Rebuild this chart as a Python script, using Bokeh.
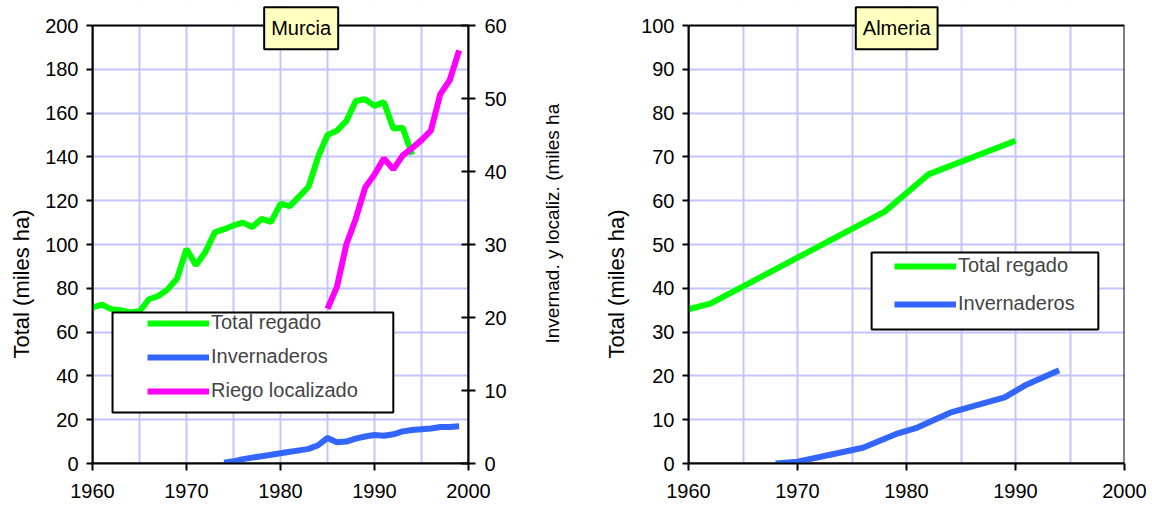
from bokeh.plotting import figure
from bokeh.models import (Range1d, LinearAxis, SingleIntervalTicker, Legend, LegendItem,
                          BoxAnnotation, Label, Title)
from bokeh.layouts import row
from bokeh.embed import file_html
from bokeh.resources import INLINE

# ---------------- data ----------------
# Murcia
murcia_total_years = list(range(1960, 1995))
murcia_total = [71.3, 72.5, 70.5, 70.0, 69.0, 69.5, 75.0, 76.5, 79.5, 84.5,
                98.0, 90.5, 96.5, 105.5, 107.0, 108.7, 110.0, 108.0, 111.7, 110.3,
                118.6, 117.5, 122.0, 126.5, 140.0, 150.0, 152.0, 156.3, 165.5, 166.3,
                163.3, 165.0, 153.0, 153.3, 141.0]
murcia_inv_years = list(range(1974, 2000))
murcia_inv = [0.1, 0.3, 0.6, 0.8, 1.0, 1.2, 1.4, 1.6, 1.8, 2.0,
              2.5, 3.5, 2.9, 3.0, 3.4, 3.7, 3.9, 3.8, 4.0, 4.4,
              4.6, 4.7, 4.8, 5.0, 5.0, 5.1]
murcia_riego_years = list(range(1985, 2000))
murcia_riego = [21.2, 24.2, 30.0, 33.5, 37.8, 39.6, 41.8, 40.3, 42.2, 43.2,
                44.3, 45.6, 50.6, 52.5, 56.6]

# Almeria
almeria_total_years = [1960, 1962, 1978, 1982, 1990]
almeria_total = [35.2, 36.5, 57.5, 66.0, 73.7]
almeria_inv_years = [1968, 1970, 1976, 1979, 1981, 1984, 1989, 1991, 1994]
almeria_inv = [0.0, 0.4, 3.6, 6.7, 8.2, 11.6, 15.1, 18.0, 21.3]

x_ticks_interval = 10
grid_x_interval = 5

GREEN = "#00FF00"
BLUE = "#3366FF"
PINK = "#FF00FF"
GRID = "#C4C4FF"
FONT = "Liberation Sans"
FS = "20px"

# The plotting frame reaches to the top of the canvas (room for the title boxes);
# the chart area proper ends at ymax, the band above it is blanked out.
TOP_EXT = 463.0 / 438.0


def style_axis(ax, out=6, inn=0):
    ax.axis_line_width = 2
    ax.axis_line_color = "black"
    ax.major_tick_line_width = 2
    ax.major_tick_line_color = "black"
    ax.major_tick_out = out
    ax.major_tick_in = inn
    ax.minor_tick_out = 0
    ax.minor_tick_in = 0
    ax.major_label_text_font = FONT
    ax.major_label_text_font_size = FS
    ax.major_label_text_color = "black"


def base_fig(frame_w, ymax, yint, mbl, mbr):
    p = figure(frame_width=frame_w, frame_height=463,
               x_range=Range1d(1960, 2000), y_range=Range1d(0, ymax * TOP_EXT),
               output_backend="svg", toolbar_location=None,
               min_border_left=mbl, min_border_right=mbr, min_border_top=0, min_border_bottom=43)
    p.title.visible = False
    p.outline_line_color = None
    p.background_fill_color = "white"
    p.border_fill_color = "white"
    p.xaxis.ticker = SingleIntervalTicker(interval=x_ticks_interval)
    p.yaxis.ticker = SingleIntervalTicker(interval=yint)
    p.yaxis.bounds = (0, ymax)
    p.xgrid.ticker = SingleIntervalTicker(interval=grid_x_interval)
    p.ygrid.ticker = SingleIntervalTicker(interval=yint)
    for g in (p.xgrid, p.ygrid):
        g.grid_line_color = GRID
        g.grid_line_width = 2
    style_axis(p.xaxis[0], out=7)
    style_axis(p.yaxis[0], out=6)
    p.xaxis.major_label_standoff = 13
    p.yaxis.major_label_standoff = 8
    # blank band above the chart area
    p.add_layout(BoxAnnotation(bottom=ymax, fill_color="white", fill_alpha=1.0,
                               line_alpha=0, level="underlay"))
    # chart-area border
    p.add_layout(BoxAnnotation(left=1960, right=2000, bottom=0, top=ymax,
                               fill_alpha=0, line_color="black", line_width=2,
                               line_alpha=1.0, level="underlay"))
    return p


def title_box(text, x, y):
    return Label(x=x, y=y, text=text, text_align="center", text_baseline="middle",
                 text_font=FONT, text_font_size=FS, text_color="black",
                 background_fill_color="#FFFFC0", background_fill_alpha=1.0,
                 border_line_color="black", border_line_width=2,
                 padding=dict(left=7, right=7, top=10, bottom=10))


def side_title(text, size, offset, standoff):
    return Title(text=text, align="left", offset=offset, standoff=standoff,
                 vertical_align="top", text_font=FONT, text_font_size=size,
                 text_font_style="normal", text_color="black")


# ---------------- Murcia ----------------
p1 = base_fig(376, 200, 20, 92, 40)
p1.extra_y_ranges = {"r": Range1d(0, 60 * TOP_EXT)}
rax = LinearAxis(y_range_name="r", ticker=SingleIntervalTicker(interval=10), bounds=(0, 60))
style_axis(rax, out=7, inn=7)
rax.major_label_standoff = 9
p1.add_layout(rax, "right")

r_tot = p1.line(murcia_total_years, murcia_total, line_color=GREEN, line_width=6)
r_inv = p1.line(murcia_inv_years, murcia_inv, line_color=BLUE, line_width=6, y_range_name="r")
r_rie = p1.line(murcia_riego_years, murcia_riego, line_color=PINK, line_width=6, y_range_name="r")

p1.add_layout(BoxAnnotation(left=1962.13, right=1992.0, bottom=23.3, top=68.9,
                            fill_color="white", fill_alpha=1.0,
                            line_color="black", line_width=2, line_alpha=1.0))
leg1 = Legend(items=[LegendItem(label="Total regado", renderers=[r_tot]),
                     LegendItem(label="Invernaderos", renderers=[r_inv]),
                     LegendItem(label="Riego localizado", renderers=[r_rie])],
              location=(55, 61), padding=0, margin=0, spacing=11,
              glyph_width=62, glyph_height=22, label_height=22, label_standoff=2,
              label_text_font=FONT, label_text_font_size=FS,
              border_line_alpha=0, background_fill_alpha=0)
p1.add_layout(leg1, "center")
p1.add_layout(title_box("Murcia", 1982.2, 198.8))
p1.add_layout(side_title("Total (miles ha)", "22px", 105, 14), "left")

# ---------------- Almeria ----------------
p2 = base_fig(436, 100, 10, 179, 29)
a_tot = p2.line(almeria_total_years, almeria_total, line_color=GREEN, line_width=6)
a_inv = p2.line(almeria_inv_years, almeria_inv, line_color=BLUE, line_width=6)
p2.add_layout(BoxAnnotation(left=1976.8, right=1997.6, bottom=30.6, top=48.2,
                            fill_color="white", fill_alpha=1.0,
                            line_color="black", line_width=2, line_alpha=1.0))
leg2 = Legend(items=[LegendItem(label="Total regado", renderers=[a_tot]),
                     LegendItem(label="Invernaderos", renderers=[a_inv])],
              location=(206, 148), padding=0, margin=0, spacing=15,
              glyph_width=62, glyph_height=22, label_height=22, label_standoff=2,
              label_text_font=FONT, label_text_font_size=FS,
              border_line_alpha=0, background_fill_alpha=0)
p2.add_layout(leg2, "center")
p2.add_layout(title_box("Almeria", 1979.1, 99.4))
p2.add_layout(side_title("Total (miles ha)", "22px", 105, 16), "left")
# secondary-axis title of the Murcia panel, placed in the gap between the panels
p2.add_layout(side_title("Invernad. y localiz. (miles ha", "19px", 120, 61), "left")

layout = row(p1, p2)
open("out.html", "w").write(file_html(layout, INLINE))
